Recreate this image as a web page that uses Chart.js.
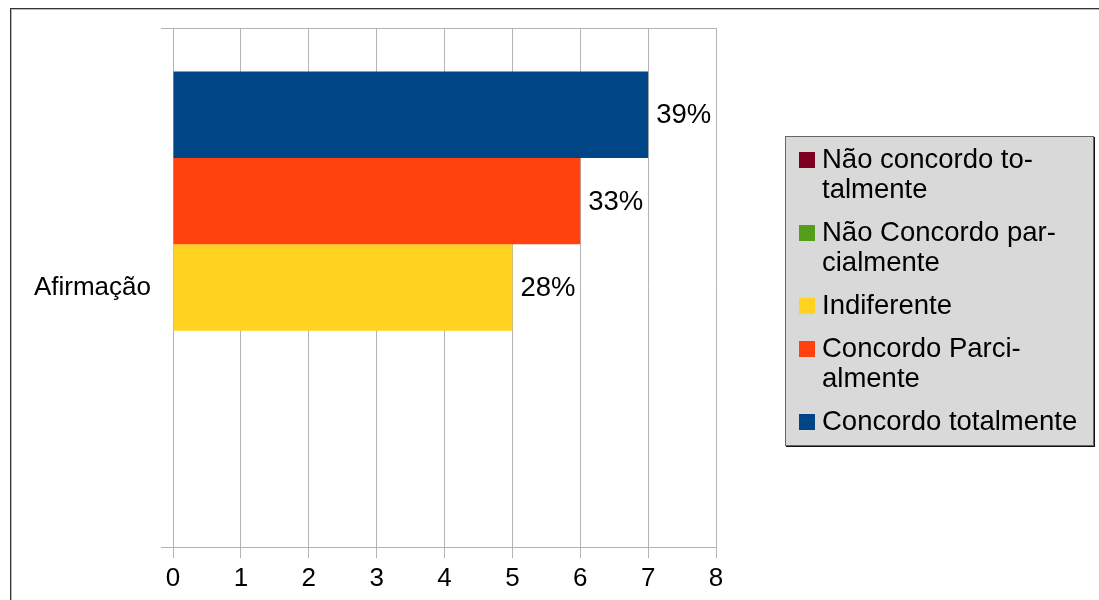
<!DOCTYPE html>
<html lang="pt">
<head>
<meta charset="utf-8">
<script src="https://cdn.jsdelivr.net/npm/chart.js@4"></script>
<style>
  html, body { margin: 0; padding: 0; background: #fff; overflow: hidden; }
  body { width: 1099px; height: 600px; position: relative; font-family: "Liberation Sans", Arial, sans-serif; }
  #moldura {
    position: absolute; left: 10px; top: 8px; width: 1200px; height: 700px;
    border: 1px solid #333; box-shadow: inset 1px 1px 0 #bbb;
  }
  #grafico { position: absolute; left: 0; top: 0; }
  #legenda {
    position: absolute; left: 785px; top: 136px; width: 309px; height: 310px;
    background: #d9d9d9; border: 1px solid #666; box-shadow: 1px 1px 0 #111;
    padding: 0; box-sizing: border-box;
  }
  .item { display: flex; align-items: flex-start; margin: 0 0 13px 13px; }
  .item:first-child { margin-top: 7px; }
  .cor { width: 16px; height: 16px; flex: none; margin: 8px 7px 0 0; }
  .nome { width: 266px; font-size: 27.5px; line-height: 30px; color: #000; hyphens: manual; }
</style>
</head>
<body>
<div id="moldura"></div>
<canvas id="grafico" width="1099" height="600"></canvas>
<div id="legenda"></div>
<script>
// categorias e séries
const categorias = ["Afirmação"];
const series = [
    "Não concordo to\u00ADtalmente",
    "Não Concordo par\u00ADcialmente",
    "Indiferente",
    "Concordo Parci\u00ADalmente",
    "Concordo totalmente"
];
const valores = [0, 0, 5, 6, 7];
const cores = ["#7e0021", "#579d1c", "#ffd320", "#ff420e", "#004586"];
const eixoMin = 0;
const eixoMax = 8;

const total = valores.reduce((a, b) => a + b, 0);
const fonte = "Liberation Sans";

// rótulos com a percentagem de cada barra
const rotulos = {
    id: "rotulos",
    afterDatasetsDraw(chart){
        const ctx = chart.ctx;
        ctx.save();
        ctx.font = "27.5px '" + fonte + "'";
        ctx.fillStyle = "#000";
        ctx.textBaseline = "middle";
        ctx.textAlign = "left";
        chart.data.datasets.forEach((ds, i) => {
            const meta = chart.getDatasetMeta(i);
            meta.data.forEach((bar, j) => {
                const v = ds.data[j];
                if (!v) return;
                ctx.fillText(Math.round(v / total * 100) + "%", bar.x + 8, bar.y + 1);
            });
        });
        ctx.restore();
    }
};

// a última série fica em cima
const datasets = series.map((nome, i) => ({
    label: nome.replace(/\u00AD/g, ""),
    data: [valores[i]],
    backgroundColor: cores[i],
    borderWidth: 0
})).reverse();

new Chart(
    document.getElementById("grafico"),
    {
        type: "bar",
        data: { labels: categorias, datasets: datasets },
        plugins: [rotulos],
        options: {
            indexAxis: "y",
            responsive: false,
            animation: false,
            events: [],
            categoryPercentage: 0.832,
            barPercentage: 1,
            layout: { padding: { top: 28, right: 383, left: 0, bottom: 0 } },
            plugins: { legend: { display: false }, tooltip: { enabled: false } },
            scales: {
                x: {
                    min: eixoMin,
                    max: eixoMax,
                    afterFit(s){ s.height = 53; },
                    ticks: {
                        stepSize: 1,
                        color: "#000",
                        padding: 5,
                        font: { family: fonte, size: 26 }
                    },
                    grid: { color: "#b3b3b3", tickLength: 11, lineWidth: 1 },
                    border: { color: "#b3b3b3" }
                },
                y: {
                    offset: true,
                    afterFit(s){ s.width = 173; },
                    ticks: {
                        color: "#000",
                        padding: 10,
                        font: { family: fonte, size: 26 }
                    },
                    grid: { offset: true, color: "#b3b3b3", tickLength: 12 },
                    border: { color: "#b3b3b3" }
                }
            }
        }
    }
);

// legenda em html, na ordem das séries
const legenda = document.getElementById("legenda");
series.forEach((nome, i) => {
    legenda.innerHTML += `
        <div class="item">
            <span class="cor" style="background:${cores[i]}"></span>
            <span class="nome">${nome}</span>
        </div>
    `;
});
</script>
</body>
</html>
